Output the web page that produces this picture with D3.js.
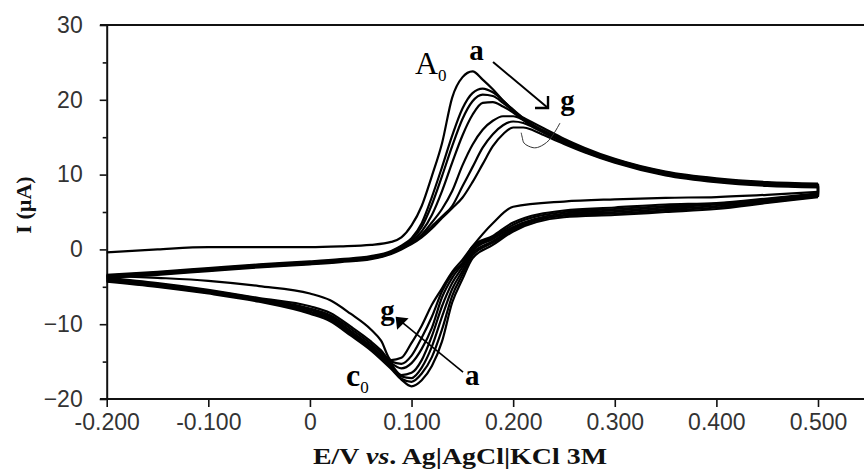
<!DOCTYPE html>
<html>
<head>
<meta charset="utf-8">
<script src="https://cdn.jsdelivr.net/npm/d3@7/dist/d3.min.js"></script>
<style>
  body { margin: 0; background: #fff; }
  svg { display: block; }
</style>
</head>
<body>
<svg id="chart" width="864" height="471"></svg>
<script>
// Potential grids (V vs. Ag|AgCl|KCl 3M)
const potentialForward = [-0.2, -0.15, -0.1, -0.05, 0, 0.03, 0.06, 0.08, 0.09, 0.1, 0.11, 0.12, 0.13, 0.14, 0.15,
  0.16, 0.17, 0.18, 0.19, 0.2, 0.21, 0.22, 0.23, 0.25, 0.27, 0.3, 0.35, 0.4, 0.45, 0.5];
const potentialReverse = [-0.2, -0.15, -0.1, -0.05, 0, 0.02, 0.04, 0.06, 0.07, 0.08, 0.09, 0.1, 0.11, 0.12, 0.13,
  0.14, 0.15, 0.16, 0.18, 0.2, 0.25, 0.3, 0.35, 0.4, 0.45, 0.5];

const scanNames = ["a", "b", "c", "d", "e", "f", "g"];

// Anodic (forward) scan currents, µA
const forwardA = [-0.4, 0.0, 0.3, 0.3, 0.3, 0.4, 0.6, 1.0, 1.6, 3.2, 5.8, 9.8, 14.2, 20.3, 23.0, 23.8, 22.7, 21.4, 19.9, 18.7, 17.6, 16.9, 16.2, 14.8, 13.6, 12.1, 10.4, 9.5, 9.0, 8.8];
const forwardB = [-3.4, -3.0, -2.5, -2.0, -1.6, -1.3, -0.9, -0.2, 0.5, 1.5, 3.5, 7.0, 11.0, 15.2, 18.8, 20.9, 21.5, 21.0, 19.9, 18.6, 17.5, 16.6, 15.9, 14.6, 13.4, 12.0, 10.3, 9.4, 8.9, 8.7];
const forwardC = [-3.5, -3.1, -2.6, -2.1, -1.7, -1.4, -1.0, -0.3, 0.4, 1.3, 3.0, 6.0, 9.8, 13.8, 17.4, 19.8, 20.7, 20.5, 19.6, 18.5, 17.4, 16.5, 15.8, 14.5, 13.3, 11.9, 10.2, 9.3, 8.8, 8.6];
const forwardD = [-3.6, -3.2, -2.7, -2.2, -1.8, -1.5, -1.1, -0.4, 0.3, 1.1, 2.4, 4.6, 7.8, 11.6, 15.2, 18.0, 19.6, 19.7, 19.1, 18.3, 17.3, 16.4, 15.7, 14.4, 13.2, 11.8, 10.1, 9.2, 8.7, 8.5];
const forwardE = [-3.6, -3.2, -2.8, -2.3, -1.9, -1.6, -1.2, -0.5, 0.2, 0.9, 2.0, 3.6, 5.4, 7.8, 11.2, 14.0, 16.0, 17.2, 17.8, 17.8, 17.3, 16.5, 15.8, 14.4, 13.2, 11.8, 10.1, 9.2, 8.7, 8.5];
const forwardF = [-3.7, -3.3, -2.8, -2.3, -1.9, -1.6, -1.2, -0.5, 0.1, 0.8, 1.8, 3.1, 4.4, 5.8, 8.4, 11.0, 13.6, 15.4, 16.6, 17.1, 16.9, 16.3, 15.6, 14.3, 13.1, 11.7, 10.0, 9.1, 8.6, 8.4];
const forwardG = [-3.8, -3.4, -2.9, -2.4, -2.0, -1.7, -1.3, -0.6, 0.0, 0.7, 1.6, 2.8, 4.2, 5.5, 6.9, 9.0, 11.4, 13.8, 15.4, 16.3, 16.3, 15.9, 15.3, 14.1, 13.0, 11.6, 9.9, 9.0, 8.5, 8.3];

// Cathodic (reverse) scan currents, µA, listed by increasing potential
const reverseA = [-4.3, -5.0, -5.9, -7.0, -8.6, -9.6, -11.5, -13.5, -14.7, -16.0, -17.4, -18.3, -17.5, -15.6, -12.3, -7.1, -4.0, -1.2, 0.6, 2.4, 4.3, 4.6, 5.0, 5.4, 6.2, 7.0];
const reverseB = [-4.2, -4.9, -5.8, -6.9, -8.4, -9.4, -11.3, -13.3, -14.5, -15.8, -17.3, -17.7, -16.6, -14.4, -10.7, -6.2, -3.4, -0.8, 0.9, 2.6, 4.5, 4.8, 5.2, 5.6, 6.3, 7.1];
const reverseC = [-4.1, -4.8, -5.7, -6.8, -8.3, -9.2, -11.1, -13.1, -14.3, -15.6, -17.0, -17.2, -15.8, -13.0, -9.0, -5.3, -2.9, -0.5, 1.1, 2.8, 4.6, 5.0, 5.4, 5.8, 6.4, 7.2];
const reverseD = [-4.0, -4.7, -5.6, -6.7, -8.1, -9.0, -10.9, -12.9, -14.1, -15.4, -16.8, -16.5, -14.8, -11.6, -7.6, -4.5, -2.4, -0.2, 1.4, 3.0, 4.8, 5.2, 5.6, 6.0, 6.6, 7.3];
const reverseE = [-3.9, -4.6, -5.5, -6.6, -7.9, -8.8, -10.6, -12.6, -13.8, -15.2, -15.9, -15.2, -13.3, -10.5, -6.4, -3.8, -2.0, 0.1, 1.6, 3.3, 5.0, 5.4, 5.8, 6.1, 6.7, 7.4];
const reverseF = [-3.8, -4.5, -5.4, -6.5, -7.6, -8.5, -10.3, -12.3, -13.5, -15.0, -15.3, -14.2, -11.8, -9.0, -5.6, -3.3, -1.8, 0.4, 1.8, 3.6, 5.2, 5.6, 6.0, 6.2, 6.8, 7.5];
const reverseG = [-3.5, -3.8, -4.2, -4.9, -5.9, -6.8, -8.6, -10.7, -12.2, -14.8, -14.5, -12.5, -10.2, -7.4, -5.2, -3.0, -1.4, 0.4, 3.5, 5.7, 6.4, 6.7, 6.9, 7.0, 7.3, 7.7];

// Axis ticks
const xTickValues = [-0.2, -0.1, 0, 0.1, 0.2, 0.3, 0.4, 0.5];
const xTickLabels = ["-0.200", "-0.100", "0", "0.100", "0.200", "0.300", "0.400", "0.500"];
const yTickValues = [-20, -10, 0, 10, 20, 30];
const yMinorTickValues = [-15, -5, 5, 15, 25];

// Annotation anchors in data units [E (V), I (µA)]
const anodicArrow = [[0.1802, 25.05], [0.2343, 18.9]];
const cathodicArrow = [[0.1507, -16.4], [0.0857, -9.2]];
const anodicBrace = [[0.2461, 16.9], [0.2353, 14.6], [0.2255, 13.7], [0.2196, 13.6], [0.2108, 14.2], [0.2089, 15.0], [0.2079, 15.6]];
const peakLabels = [
  { text: "a", pos: [0.1639, 25.3] },
  { text: "g", pos: [0.2535, 18.6] },
  { text: "g", pos: [0.0763, -9.4] },
  { text: "a", pos: [0.1598, -18.1] }
];
const waveLabels = [
  { text: "A", sub: "0", pos: [0.1034, 23.4], bold: false },
  { text: "c", sub: "0", pos: [0.0355, -18.3], bold: true }
];

const forwardSets = [forwardA, forwardB, forwardC, forwardD, forwardE, forwardF, forwardG];
const reverseSets = [reverseA, reverseB, reverseC, reverseD, reverseE, reverseF, reverseG];
const scans = scanNames.map((name, i) => ({
  name,
  forward: potentialForward.map((e, j) => [e, forwardSets[i][j]]),
  reverse: potentialReverse.map((e, j) => [e, reverseSets[i][j]])
}));

const svg = d3.select("#chart");
const W = 864;

const x = d3.scaleLinear().domain([-0.2, 0.5]).range([106.7, 818]);
const y = d3.scaleLinear().domain([-20, 30]).range([399, 25]);

const tickFont = "'Liberation Sans', Arial, sans-serif";
const serif = "'Liberation Serif', 'Times New Roman', serif";

// Frame: top rule and bottom axis rule run to the right edge
svg.append("line")
  .attr("x1", 100).attr("x2", W).attr("y1", y(30)).attr("y2", y(30))
  .attr("stroke", "#111").attr("stroke-width", 2);
svg.append("line")
  .attr("x1", 100).attr("x2", W).attr("y1", y(-20)).attr("y2", y(-20))
  .attr("stroke", "#111").attr("stroke-width", 2);

// X axis
const xAxis = svg.append("g")
  .attr("transform", `translate(0,${y(-20)})`)
  .call(d3.axisBottom(x).tickValues(xTickValues)
    .tickFormat((d, i) => xTickLabels[i]).tickSize(8).tickSizeOuter(0).tickPadding(7));
xAxis.select(".domain").remove();
xAxis.selectAll(".tick line").attr("stroke", "#111").attr("stroke-width", 1.6);
xAxis.selectAll("text").attr("font-family", tickFont).attr("font-size", 23).attr("fill", "#333");

// Y axis
const yAxis = svg.append("g")
  .attr("transform", `translate(${x(-0.2)},0)`)
  .call(d3.axisLeft(y).tickValues(yTickValues).tickSize(7).tickSizeOuter(0).tickPadding(17));
yAxis.select(".domain").attr("stroke", "#111").attr("stroke-width", 2);
yAxis.selectAll(".tick line").attr("stroke", "#111").attr("stroke-width", 1.6);
yAxis.selectAll("text").attr("font-family", tickFont).attr("font-size", 23).attr("fill", "#333");

const yMinor = svg.append("g")
  .attr("transform", `translate(${x(-0.2)},0)`)
  .call(d3.axisLeft(y).tickValues(yMinorTickValues).tickSize(4).tickFormat(""));
yMinor.select(".domain").remove();
yMinor.selectAll(".tick line").attr("stroke", "#111").attr("stroke-width", 1.6);

// Axis titles
const xTitle = svg.append("text")
  .attr("x", 460).attr("y", 464)
  .attr("text-anchor", "middle")
  .attr("textLength", 294).attr("lengthAdjust", "spacingAndGlyphs")
  .attr("font-family", serif).attr("font-weight", "bold").attr("font-size", 24).attr("fill", "#111");
xTitle.append("tspan").text("E/V ");
xTitle.append("tspan").attr("font-style", "italic").text("vs");
xTitle.append("tspan").text(". Ag|AgCl|KCl 3M");

svg.append("text")
  .attr("transform", "translate(31,205) rotate(-90)")
  .attr("text-anchor", "middle")
  .attr("font-family", serif).attr("font-weight", "bold").attr("font-size", 22).attr("fill", "#111")
  .text("I (µA)");

// Voltammograms
const line = d3.line().x(d => x(d[0])).y(d => y(d[1])).curve(d3.curveMonotoneX);
const straight = d3.line().x(d => x(d[0])).y(d => y(d[1]));
const curves = svg.append("g").attr("fill", "none").attr("stroke", "#000")
  .attr("stroke-width", 2.2).attr("stroke-linejoin", "round");

curves.selectAll("path.fwd").data(scans).join("path")
  .attr("class", "fwd").attr("d", d => line(d.forward));
curves.selectAll("path.rev").data(scans).join("path")
  .attr("class", "rev").attr("d", d => line(d.reverse));
// switching point at the positive vertex
curves.selectAll("path.turn").data(scans).join("path")
  .attr("class", "turn")
  .attr("d", d => straight([d.forward[d.forward.length - 1], d.reverse[d.reverse.length - 1]]));

// Annotations
const ann = svg.append("g").attr("fill", "none").attr("stroke", "#000");
ann.append("path").attr("stroke-width", 2).attr("d", straight(anodicArrow));
{
  const tip = [x(anodicArrow[1][0]), y(anodicArrow[1][1])];
  ann.append("path").attr("stroke-width", 2.4)
    .attr("d", `M${tip[0] - 13},${tip[1]} L${tip[0]},${tip[1]} L${tip[0]},${tip[1] - 12}`);
}
ann.append("path").attr("stroke-width", 1.6).attr("d", straight(cathodicArrow));
{
  const tip = [x(cathodicArrow[1][0]), y(cathodicArrow[1][1])];
  ann.append("path").attr("stroke-width", 2.4).attr("fill", "#000")
    .attr("d", `M${tip[0] + 9},${tip[1] + 1} L${tip[0]},${tip[1]} L${tip[0] + 1},${tip[1] + 9} Z`);
}
ann.append("path").attr("stroke-width", 1).attr("stroke", "#333")
  .attr("d", d3.line().x(d => x(d[0])).y(d => y(d[1])).curve(d3.curveCatmullRom)(anodicBrace));

svg.append("g").selectAll("text").data(peakLabels).join("text")
  .attr("x", d => x(d.pos[0])).attr("y", d => y(d.pos[1]))
  .attr("text-anchor", "middle")
  .attr("font-family", serif).attr("font-weight", "bold")
  .attr("font-size", 29).attr("fill", "#000")
  .text(d => d.text);

const wl = svg.append("g").selectAll("text").data(waveLabels).join("text")
  .attr("x", d => x(d.pos[0])).attr("y", d => y(d.pos[1]))
  .attr("font-family", serif).attr("font-weight", d => d.bold ? "bold" : "normal")
  .attr("font-size", 32).attr("fill", "#000");
wl.append("tspan").text(d => d.text);
wl.append("tspan").attr("font-size", 17).attr("font-weight", "normal").attr("dy", 7).text(d => d.sub);
</script>
</body>
</html>
